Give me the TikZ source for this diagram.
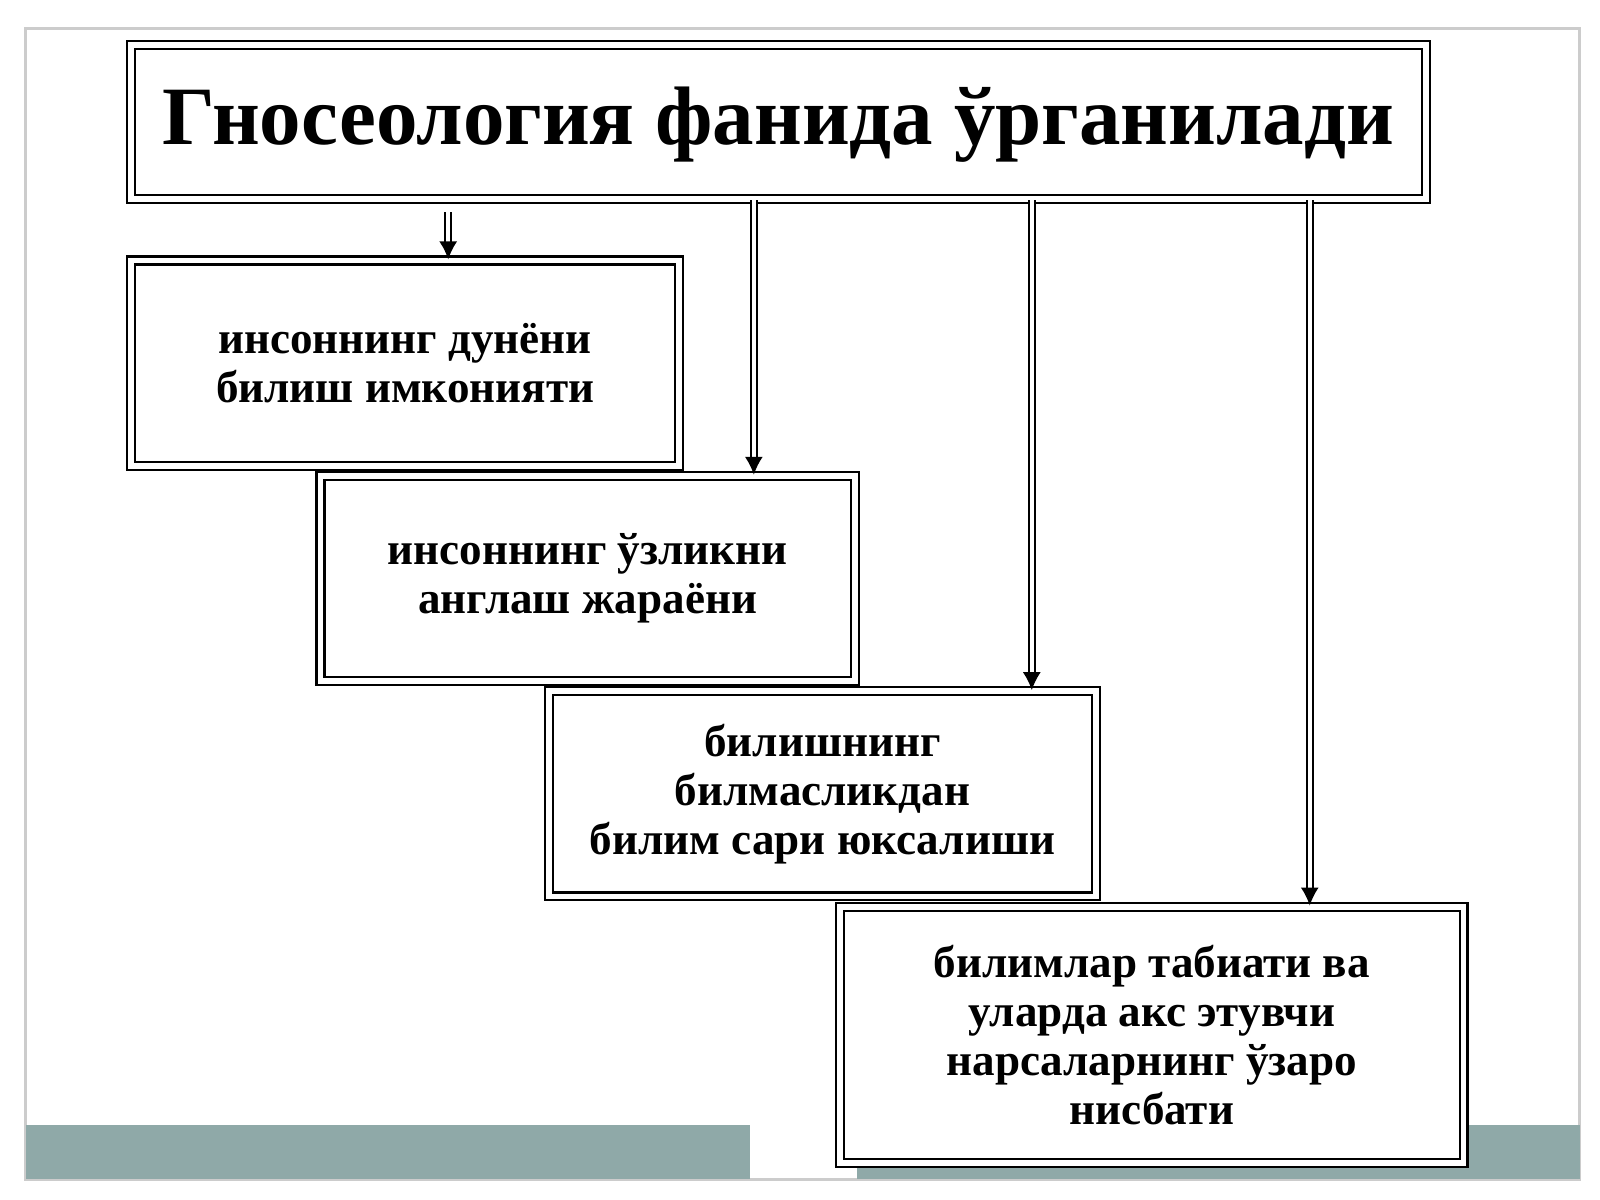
\documentclass[tikz,border=0pt]{standalone}
\usepackage{fontspec}
\setmainfont{Liberation Serif}
\usetikzlibrary{arrows.meta}
\begin{document}
\begin{tikzpicture}[x=0.01cm,y=-0.01cm,
  box/.style={draw,double,double distance=1.6pt,line width=0.6pt,inner sep=0pt,align=center},
  txt/.style={font=\fontsize{12.5}{13.6}\selectfont\bfseries},
  arr/.style={double,double distance=1.2pt,line width=0.5pt,-{Latex[length=5pt,width=5pt]},shorten >=0pt}]
\useasboundingbox (0,0) rectangle (1560,1170);
\draw[gray!40,line width=0.8pt] (25,28) rectangle (1540,1150);
\fill[fill={rgb,255:red,143;green,169;blue,168}] (25,1097) rectangle (731,1150);
\fill[fill={rgb,255:red,143;green,169;blue,168}] (836,1097) rectangle (1540,1150);
\node[box,fill=white,minimum width=1262*0.01cm,minimum height=150*0.01cm] (t) at (759,119) {};
\node[font=\fontsize{23}{26}\selectfont\bfseries] (tt) at (759,122) {Гносеология фанида ўрганилади};
\node[box,fill=white,txt,minimum width=534*0.01cm,minimum height=200*0.01cm] (b1) at (395,354) {инсоннинг дунёни\\билиш имконияти};
\node[box,fill=white,txt,minimum width=521*0.01cm,minimum height=200*0.01cm] (b2) at (573,564) {инсоннинг ўзликни\\англаш жараёни};
\node[box,fill=white,txt,minimum width=533*0.01cm,minimum height=200*0.01cm] (b3) at (802,774) {билишнинг\\билмасликдан\\билим сари юксалиши};
\node[box,fill=white,txt,minimum width=608*0.01cm,minimum height=250*0.01cm] (b4) at (1123,1009) {билимлар табиати ва\\уларда акс этувчи\\нарсаларнинг ўзаро\\нисбати};
\coordinate (s1) at (437,207);
\draw[arr] (s1) -- (s1 |- b1.north);
\draw[arr] (t.south -| 735,0) -- (b2.north -| 735,0);
\draw[arr] (t.south -| 1006,0) -- (b3.north -| 1006,0);
\draw[arr] (t.south -| 1277,0) -- (b4.north -| 1277,0);
\end{tikzpicture}
\end{document}
